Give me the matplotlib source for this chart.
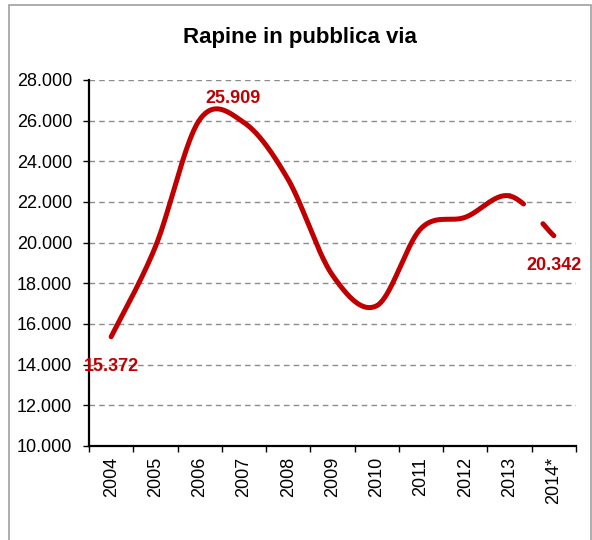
import matplotlib
matplotlib.use("Agg")
import matplotlib.pyplot as plt
import matplotlib.patches as mpatches
from matplotlib.ticker import FuncFormatter, MultipleLocator
import numpy as np

plt.rcParams["font.family"] = ["Liberation Sans", "DejaVu Sans"]

# ── data ──────────────────────────────────────────────────────────────────────
years = ["2004", "2005", "2006", "2007", "2008", "2009",
         "2010", "2011", "2012", "2013", "2014*"]
rapine = [15372, 19800, 26050, 25909, 23100, 18400,
          16900, 20700, 21250, 22300, 20342]
labelled = {0: (0, -21.5), 3: (-8, 17), 10: (0, -21.5)}   # index -> offset (pt)

RED = "#C00000"
GRID = "#8c8c8c"
LW = 3.6


def it_thousands(v, _pos=None):
    return f"{int(round(v)):,}".replace(",", ".")


def smooth(xs, ys, n=40):
    """Bezier smoothing through every point (Excel-style smoothed line)."""
    xs = np.asarray(xs, float)
    ys = np.asarray(ys, float)
    px, py = [], []
    for i in range(len(xs) - 1):
        x0, y0 = xs[i], ys[i]
        x3, y3 = xs[i + 1], ys[i + 1]
        xm, ym = (xs[i - 1], ys[i - 1]) if i > 0 else (x0, y0)
        xn, yn = (xs[i + 2], ys[i + 2]) if i + 2 < len(xs) else (x3, y3)
        x1, y1 = x0 + (x3 - xm) / 6, y0 + (y3 - ym) / 6
        x2, y2 = x3 - (xn - x0) / 6, y3 - (yn - y0) / 6
        t = np.linspace(0, 1, n)
        a, b, c, d = (1 - t) ** 3, 3 * t * (1 - t) ** 2, 3 * t ** 2 * (1 - t), t ** 3
        px.append(a * x0 + b * x1 + c * x2 + d * x3)
        py.append(a * y0 + b * y1 + c * y2 + d * y3)
    return px, py


fig = plt.figure(figsize=(5.92, 5.40), dpi=100)
fig.patch.set_facecolor("white")

# thin grey frame around the chart area
fig.add_artist(mpatches.Rectangle((9 / 592, -0.05), 582 / 592, 1.05 - 5 / 540,
                                  transform=fig.transFigure, fill=False,
                                  edgecolor="#a0a0a0", lw=1.2))

ax = fig.add_axes([89 / 592, 1 - 446 / 540, 487 / 592, 366 / 540])
ax.set_xlim(-0.5, len(years) - 0.5)
ax.set_ylim(10000, 28000)

x = np.arange(len(years))
seg_x, seg_y = smooth(x, rapine)

# solid line up to 2013
sx = np.concatenate(seg_x[:-1])
sy = np.concatenate(seg_y[:-1])
ax.plot(sx, sy, color=RED, lw=LW, solid_capstyle="round",
        solid_joinstyle="round", zorder=3)

# estimate for 2014 dashed: two dashes spanning the last segment exactly
disp = ax.transData.transform(np.column_stack([seg_x[-1], seg_y[-1]]))
seg_len = np.hypot(*np.diff(disp, axis=0).T).sum() * 72 / fig.dpi
ax.plot(seg_x[-1], seg_y[-1], color=RED, lw=LW,
        dashes=(0.27 * seg_len / LW, 0.46 * seg_len / LW),
        dash_capstyle="round", zorder=3)

for i, (dx, dy) in labelled.items():
    ax.annotate(it_thousands(rapine[i]), xy=(x[i], rapine[i]),
                xytext=(dx, dy), textcoords="offset points",
                ha="center", va="center", fontsize=13, fontweight="bold",
                color=RED, zorder=4)

ax.yaxis.set_major_locator(MultipleLocator(2000))
ax.yaxis.set_major_formatter(FuncFormatter(it_thousands))
ax.set_xticks(np.arange(len(years) + 1) - 0.5)
ax.set_xticklabels([])
ax.set_xticks(x, minor=True)
ax.set_xticklabels(years, minor=True, rotation=90)

ax.grid(axis="y", color=GRID, lw=1.0, linestyle=(0, (4, 3)))
ax.set_axisbelow(True)
for s in ("top", "right"):
    ax.spines[s].set_visible(False)
for s in ("left", "bottom"):
    ax.spines[s].set_linewidth(1.6)
    ax.spines[s].set_color("black")

ax.tick_params(axis="y", length=4, width=1, pad=8, labelsize=13,
               colors="black")
ax.tick_params(axis="x", which="major", length=4, width=1, direction="out")
ax.tick_params(axis="x", which="minor", length=0, pad=8, labelsize=13)
for lbl in ax.get_xticklabels(minor=True):
    lbl.set_va("top")

fig.text(300 / 592, 1 - 38 / 540, "Rapine in pubblica via", ha="center",
         va="center", fontsize=16, fontweight="bold")

fig.savefig("out.png", dpi=100, facecolor="white")
